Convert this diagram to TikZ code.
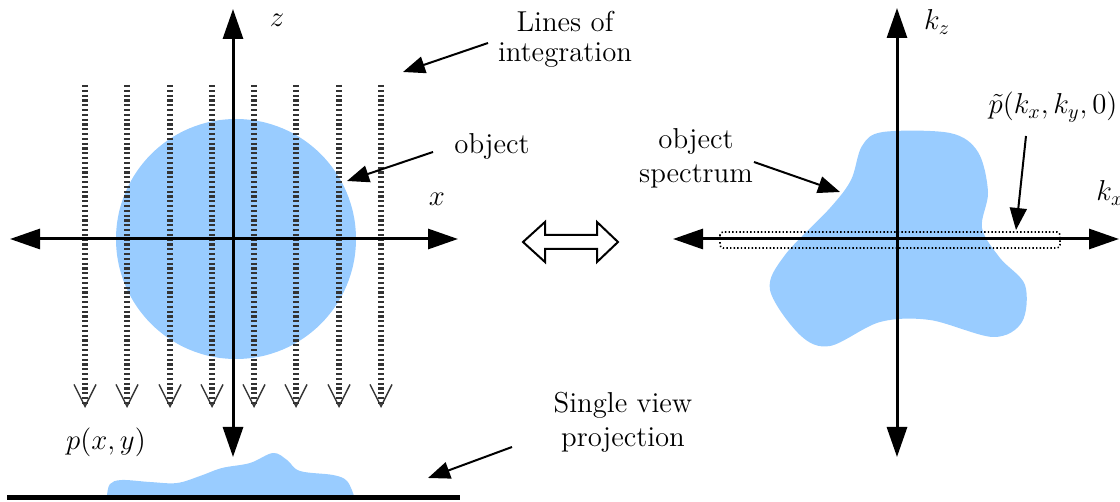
\documentclass[tikz,border=0pt]{standalone}
\usetikzlibrary{arrows.meta}
\definecolor{blobc}{HTML}{99CCFF}
\definecolor{intc}{HTML}{333333}
\begin{document}
\begin{tikzpicture}[x=0.5pt,y=-0.5pt,
  axis/.style={line width=1.5pt,{Triangle[length=15pt,width=10pt]}-{Triangle[length=15pt,width=10pt]}},
  callout/.style={line width=1pt,-{Triangle[length=11pt,width=8.5pt]}},
  intline/.style={intc,line width=2.6pt,dash pattern=on 1.1pt off 1.3pt,
    -{Straight Barb[length=11pt,width=11pt,line width=0.7pt]}},
  lbl/.style={font=\Large,inner sep=1pt},
  txt/.style={font=\Large,align=center,inner sep=1pt}]
\useasboundingbox (0,0) rectangle (1120,502);

% ---------- left panel ----------
\fill[blobc] (236,239) circle[radius=120];

\foreach \i/\x in {1/85,2/127,3/170,4/212,5/254,6/296,7/339,8/381}{
  \coordinate (s\i) at (\x,85);
  \coordinate (e\i) at (\x,408);
  \draw[intline] (s\i) -- (e\i);
}

\coordinate (xl) at (10,239);
\coordinate (xr) at (458,239);
\coordinate (zt) at (233,9);
\coordinate (zb) at (233,457);
\draw[axis] (xl) -- (xr);
\draw[axis] (zb) -- (zt);

\node[lbl] (zlab) at (277,20) {$z$};
\node[lbl] (xlab) at (437,199) {$x$};
\node[txt] (loi) at (565,39) {Lines of\\[-3pt]integration};
\coordinate (loitip) at (403,72);
\draw[callout] (488,43) coordinate (loist) -- (loitip);
\node[lbl] (obj) at (492,146) {object};
\coordinate (objtip) at (347,181);
\draw[callout] (433,152) coordinate (objst) -- (objtip);

% projection
\fill[blobc] plot[smooth, tension=0.6] coordinates {(107,496) (110,484) (122,480) (150,482) (177,483) (200,476) (222,468) (250,463) (273,453) (287,460) (300,471) (333,475) (347,481) (354,496)} -- cycle;
\coordinate (bl) at (7,497);
\coordinate (br) at (460,497);
\draw[line width=2.5pt] (bl) -- (br);
\node[lbl] (pxy) at (106,442) {$p(x,y)$};
\node[txt] (svp) at (623,422) {Single view\\[-1pt]projection};
\coordinate (svptip) at (428,478);
\draw[callout] (512,447) coordinate (svpst) -- (svptip);

% ---------- double arrow ----------
\draw[line width=1pt,line join=miter] (523,242) -- (545,222) -- (545,235) -- (597,235) -- (597,222) -- (618,242) -- (597,262) -- (597,249) -- (545,249) -- (545,262) -- cycle;

% ---------- right panel ----------
\fill[blobc] plot[smooth cycle, tension=0.55] coordinates {(883,132) (950,133) (978,152) (988,192) (982,228) (1000,258) (1025,285) (1022,322) (993,337) (930,320) (880,322) (830,346) (800,335) (770,290) (785,255) (830,208) (851,180) (862,146)};

\draw[line width=0.8pt,dash pattern=on 0.7pt off 1.1pt,rounded corners=1.5pt] (720,232) rectangle (1060,248);

\coordinate (kl) at (673,239);
\coordinate (kr) at (1119,239);
\coordinate (kt) at (897,8);
\coordinate (kb) at (897,457);
\draw[axis] (kl) -- (kr);
\draw[axis] (kb) -- (kt);

\node[lbl] (kzlab) at (937,22) {$k_z$};
\node[lbl] (kxlab) at (1110,193) {$k_x$};
\node[lbl] (ptl) at (1053,107) {$\tilde{p}(k_x,k_y,0)$};
\coordinate (pttip) at (1016,230);
\draw[callout] (1026,136) coordinate (ptst) -- (pttip);
\node[txt] (os) at (696,158) {object\\[-1pt]spectrum};
\coordinate (ostip) at (840,192);
\draw[callout] (754,162) coordinate (osst) -- (ostip);
\end{tikzpicture}
\end{document}
